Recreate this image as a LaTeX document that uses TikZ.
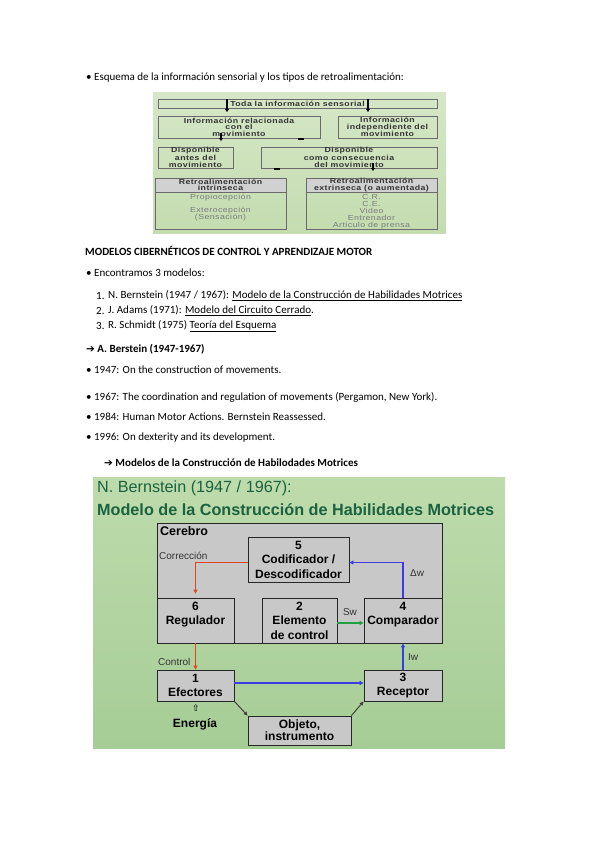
\documentclass[tikz,border=0pt]{standalone}
\usepackage{fontspec}
\setmainfont{Carlito}
\newfontfamily\arial{Liberation Sans}
\newfontfamily\figfont[FakeStretch=1.2,LetterSpace=6]{Liberation Sans}
\newfontfamily\djv{DejaVu Sans}
\usetikzlibrary{arrows.meta}
\definecolor{figonebg}{HTML}{D6E7C7}
\definecolor{figonebgb}{HTML}{C4DCB0}
\definecolor{figtwobg}{HTML}{BEDBAC}
\definecolor{figtwobgb}{HTML}{A6CD96}
\definecolor{boxgrey}{HTML}{C8C8C8}
\definecolor{titlegreen}{HTML}{1B6240}
\definecolor{corr}{HTML}{E2441C}
\definecolor{fbblue}{HTML}{3C3CE6}
\definecolor{swgreen}{HTML}{22A040}
\definecolor{figtext}{HTML}{333333}
\definecolor{figline}{HTML}{6A6A6A}
\tikzset{
  pagetext/.style={anchor=west,inner sep=0pt,font=\fontsize{11}{13}\selectfont},
  pagebold/.style={pagetext,font=\bfseries\fontsize{11}{13}\selectfont},
  fonebox/.style={draw=figline,line width=0.6pt,inner sep=0pt,align=center,text=figtext,
    font=\figfont\bfseries\fontsize{7.3}{6.6}\selectfont},
  fonebody/.style={inner sep=0pt,align=center,text=figtext!65,
    font=\figfont\fontsize{7.3}{7}\selectfont},
  smallarrow/.style={line width=1.1pt,-{Triangle[length=3pt,width=4pt]}},
  ftwobox/.style={draw=black!85,fill=boxgrey,line width=0.8pt,inner sep=0pt,align=center,
    font=\arial\bfseries\fontsize{12}{14.5}\selectfont},
  flabel/.style={inner sep=0pt,text=black!80,font=\arial\fontsize{10}{11}\selectfont},
  farrow/.style={line width=1.3pt,-{Triangle[length=4pt,width=4pt]}}
}
\begin{document}
\begin{tikzpicture}[x=1pt,y=-1pt]
\useasboundingbox (0,0) rectangle (599,848);
\fill[white] (0,0) rectangle (599,848);

% ---------- page text ----------
\node[pagetext] (t1) at (86,78) {\textbullet\ Esquema de la información sensorial y los tipos de retroalimentación:};

% ---------- figure 1 ----------
\shade[top color=figonebg,bottom color=figonebgb] (153,93) rectangle (446,233);
\node[fonebox,minimum width=279pt,minimum height=9pt] (toda) at (297.5,103.5) {Toda la información sensorial};
\node[fonebox,minimum width=162pt,minimum height=22pt] (rel) at (239,127) {Información relacionada\\con el\\movimiento};
\node[fonebox,minimum width=99pt,minimum height=22pt] (indep) at (387.5,127) {Información\\independiente del\\movimiento};
\node[fonebox,minimum width=75pt,minimum height=21pt] (antes) at (195.5,157.5) {Disponible\\antes del\\movimiento};
\node[fonebox,minimum width=176pt,minimum height=21pt] (conse) at (349,157.5) {Disponible\\como consecuencia\\del movimiento};
% intrinsic
\node[fonebox,fill=black!18,minimum width=131pt,minimum height=14pt] (intrh) at (220.5,185) {Retroalimentación\\intrinseca};
\node[draw=figline,line width=0.6pt,minimum width=131pt,minimum height=37pt,inner sep=0pt] (intrb) at (220.5,210.5) {};
\node[fonebody] (intrt) at (220.5,208) {Propiocepción\\[6pt]Exterocepción\\(Sensación)};
% extrinsic
\node[fonebox,fill=black!18,minimum width=131pt,minimum height=14pt] (extrh) at (371.5,185) {Retroalimentación\\extrinseca (o aumentada)};
\node[draw=figline,line width=0.6pt,minimum width=131pt,minimum height=37pt,inner sep=0pt] (extrb) at (371.5,210.5) {};
\node[fonebody] (extrt) at (371.5,211.5) {C.R.\\C.E.\\Video\\Entrenador\\Articulo de prensa};
% fragments of arrows
\draw[smallarrow] (227,99) -- (227,112);
\draw[smallarrow] (368,99) -- (368,112);
\draw[smallarrow] (221,133) -- (221,141);
\draw[line width=1.2pt] (298,139) -- (304,139);
\draw[line width=1.2pt] (274,169) -- (280,169);
\draw[smallarrow] (373,163) -- (373,171);

% ---------- page text ----------
\node[pagebold] (t2) at (85,251) {MODELOS CIBERNÉTICOS DE CONTROL Y APRENDIZAJE MOTOR};
\node[pagetext] (t3) at (86,273) {\textbullet\ Encontramos 3 modelos:};
\node[pagetext] (n1) at (96,296) {1.};
\node[pagetext] (l1) at (108,296) {N. Bernstein (1947 / 1967): \underline{Modelo de la Construcción de Habilidades Motrices}};
\node[pagetext] (n2) at (96,311) {2.};
\node[pagetext] (l2) at (108,311) {J. Adams (1971): \underline{Modelo del Circuito Cerrado}.};
\node[pagetext] (n3) at (96,326) {3.};
\node[pagetext] (l3) at (108,326) {R. Schmidt (1975) \underline{Teoría del Esquema}};
\node[pagebold] (t4) at (86,349) {{\djv\fontsize{10.5}{11}\selectfont ➔} A. Berstein (1947-1967)};
\node[pagetext] (b1) at (86,370) {\textbullet\ 1947: On the construction of movements.};
\node[pagetext] (b2) at (86,397) {\textbullet\ 1967: The coordination and regulation of movements (Pergamon, New York).};
\node[pagetext] (b3) at (86,417) {\textbullet\ 1984: Human Motor Actions. Bernstein Reassessed.};
\node[pagetext] (b4) at (86,438) {\textbullet\ 1996: On dexterity and its development.};
\node[pagebold] (t5) at (104,463) {{\djv\fontsize{10.5}{11}\selectfont ➔} Modelos de la Construcción de Habilodades Motrices};

% ---------- figure 2 ----------
\shade[top color=figtwobg,bottom color=figtwobgb] (93,477) rectangle (505,748);
\node[anchor=west,inner sep=0pt,text=titlegreen,font=\arial\fontsize{16.2}{18}\selectfont] (ti1) at (97,488) {N. Bernstein (1947 / 1967):};
\node[anchor=west,inner sep=0pt,text=titlegreen,font=\arial\bfseries\fontsize{16.2}{18}\selectfont] (ti2) at (97,510) {Modelo de la Construcción de Habilidades Motrices};

\node[ftwobox,minimum width=285pt,minimum height=120pt] (cerebro) at (299.5,583) {};
\node[anchor=west,inner sep=0pt,font=\arial\bfseries\fontsize{12.5}{14}\selectfont] (cerlab) at (160,531) {Cerebro};
\node[ftwobox,minimum width=101pt,minimum height=45pt] (b5) at (298.5,559.5) {5\\Codificador /\\Descodificador};
\node[ftwobox,minimum width=77pt,minimum height=45pt] (b6) at (195.5,620.5) {6\\Regulador\\\mbox{}};
\node[ftwobox,minimum width=75pt,minimum height=45pt] (b2) at (299.5,620.5) {2\\Elemento\\de control};
\node[ftwobox,minimum width=78pt,minimum height=45pt] (b4) at (403,620.5) {4\\Comparador\\\mbox{}};
\node[ftwobox,minimum width=77pt,minimum height=31pt,font=\arial\bfseries\fontsize{12}{14}\selectfont] (b1) at (195.5,685.5) {1\\Efectores};
\node[ftwobox,minimum width=78pt,minimum height=31pt,font=\arial\bfseries\fontsize{12}{14}\selectfont] (b3) at (403,685.5) {3\\Receptor};
\node[ftwobox,minimum width=103pt,minimum height=29pt,font=\arial\bfseries\fontsize{12}{12}\selectfont] (obj) at (299.5,730.5) {Objeto,\\instrumento};

\draw[farrow,corr] ([yshift=-3pt]b5.west) -| ([yshift=4pt]b6.north);
\draw[farrow,corr] (b6.south) -- (b1.north);
\draw[farrow,fbblue] (b4.north) |- ([yshift=-3pt]b5.east);
\draw[farrow,swgreen] ([yshift=-2.5pt]b2.east) -- ([yshift=-2.5pt]b4.west);
\draw[farrow,fbblue] (b3.north) -- (b4.south);
\draw[farrow,fbblue] ([yshift=2.5pt]b1.east) -- ([yshift=2.5pt]b3.west);
\draw[line width=1pt,black!75,-{Triangle[length=4pt,width=3.5pt]}] (b1.south east) -- (obj.north west);
\draw[line width=1pt,black!75,-{Triangle[length=4pt,width=3.5pt]}] (obj.north east) -- (b3.south west);

\node[flabel,anchor=west] (lcorr) at (159,556) {Corrección};
\node[flabel,anchor=west] (ldw) at (410,573) {Δw};
\node[flabel] (lsw) at (350,612) {Sw};
\node[flabel,anchor=west] (lctl) at (158,662) {Control};
\node[flabel,anchor=west] (liw) at (408,657) {Iw};
\node[inner sep=0pt,font=\djv\fontsize{9}{10}\selectfont] (uparr) at (196,708) {⇧};
\node[inner sep=0pt,font=\arial\bfseries\fontsize{12}{14}\selectfont] (energ) at (195,724) {Energía};
\end{tikzpicture}
\end{document}
